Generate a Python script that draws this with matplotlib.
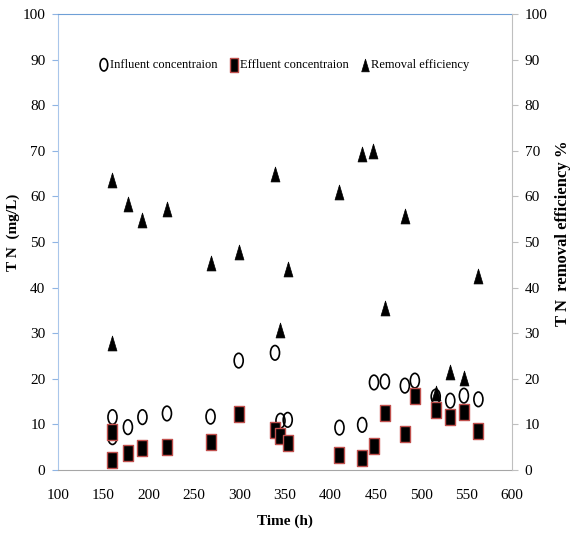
import numpy as np
import matplotlib
matplotlib.use("Agg")
import matplotlib.pyplot as plt
from matplotlib.path import Path

# influent / effluent TN (mg/L)
t_conc = [160, 160, 177, 193, 220, 268, 299, 339, 345, 353,
          410, 435, 448, 460, 482, 493, 516, 532, 547, 563]
influent = [11.6, 7.2, 9.4, 11.6, 12.4, 11.7, 24.0, 25.7, 10.8, 11.0,
            9.3, 9.9, 19.2, 19.4, 18.5, 19.6, 16.1, 15.2, 16.3, 15.5]
effluent = [8.3, 2.3, 3.7, 4.9, 5.1, 6.2, 12.3, 8.8, 7.5, 6.0,
            3.3, 2.6, 5.3, 12.4, 7.8, 16.2, 13.2, 11.7, 12.8, 8.6]

# removal efficiency (%)
t_eff = [160, 160, 177, 193, 220, 268, 299, 339, 345, 353,
         410, 435, 447, 460, 482, 516, 532, 547, 563]
removal = [63.7, 27.8, 58.3, 54.8, 57.2, 45.3, 47.7, 64.9, 30.7, 44.1,
           61.0, 69.4, 70.0, 35.5, 55.7, 16.8, 21.6, 20.1, 42.6]

x_ticks = list(range(100, 601, 50))
y_ticks = list(range(0, 101, 10))

plt.rcParams['font.family'] = ['Liberation Serif', 'DejaVu Serif']

# tall, narrow marker shapes (the original is horizontally squeezed)
circ = Path.unit_circle()
ellipse = Path(circ.vertices * [0.62, 1.0], circ.codes)
rect = Path([(-0.32, -0.5), (0.32, -0.5), (0.32, 0.5), (-0.32, 0.5), (-0.32, -0.5)],
            [Path.MOVETO, Path.LINETO, Path.LINETO, Path.LINETO, Path.CLOSEPOLY])
tri = Path([(0, 0.5), (0.3, -0.5), (-0.3, -0.5), (0, 0.5)],
           [Path.MOVETO, Path.LINETO, Path.LINETO, Path.CLOSEPOLY])

fig = plt.figure(figsize=(5.75, 5.46), dpi=100)
ax = fig.add_axes([58/575, 76/546, 454/575, 456/546])
ax2 = ax.twinx()

h1 = ax.scatter(t_conc, influent, marker=ellipse, s=110, facecolors='none',
                edgecolors='black', linewidths=1.2, label='Influent concentraion', zorder=3)
h2 = ax.scatter(t_conc, effluent, marker=rect, s=130, facecolors='black',
                edgecolors='#c0504d', linewidths=1.0, label='Effluent concentraion', zorder=4)
h3 = ax2.scatter(t_eff, removal, marker=tri, s=115, facecolors='black',
                 edgecolors='black', linewidths=0.5, label='Removal efficiency', zorder=5)

for a in (ax, ax2):
    a.set_xlim(100, 600)
    a.set_ylim(0, 100)
    a.set_yticks(y_ticks)

ax.set_xticks(x_ticks)
ax.tick_params(axis='x', length=0, labelsize=11, pad=14)
ax.tick_params(axis='y', direction='out', length=4, color='#8fb4e3', labelsize=11, pad=5)
ax2.tick_params(axis='y', direction='out', length=4, color='#bfbfbf', labelsize=11, pad=5)

ax.spines['left'].set_color('#a9c6ea')
ax.spines['top'].set_color('#6e9fd6')
ax.spines['bottom'].set_color('#a6a6a6')
ax.spines['right'].set_visible(False)
ax2.spines['right'].set_color('#bfbfbf')
for s in ('left', 'top', 'bottom'):
    ax2.spines[s].set_visible(False)

ax.set_xlabel('Time (h)', fontsize=11, fontweight='bold', labelpad=9)
ax.set_ylabel('T N  (mg/L)', fontsize=11, fontweight='bold')
ax.yaxis.set_label_coords(-0.084, 0.522)
ax2.set_ylabel('T N  removal efficiency %', fontsize=12, fontweight='bold',
               rotation=90, va='center')
ax2.yaxis.set_label_coords(1.112, 0.52)

ax.legend(handles=[h1, h2, h3], loc='center', bbox_to_anchor=(0.497, 0.888),
          ncol=3, frameon=False, fontsize=9, handletextpad=0.0,
          columnspacing=0.8, handlelength=1.0, markerscale=0.85)

fig.savefig('out.png', dpi=100)
